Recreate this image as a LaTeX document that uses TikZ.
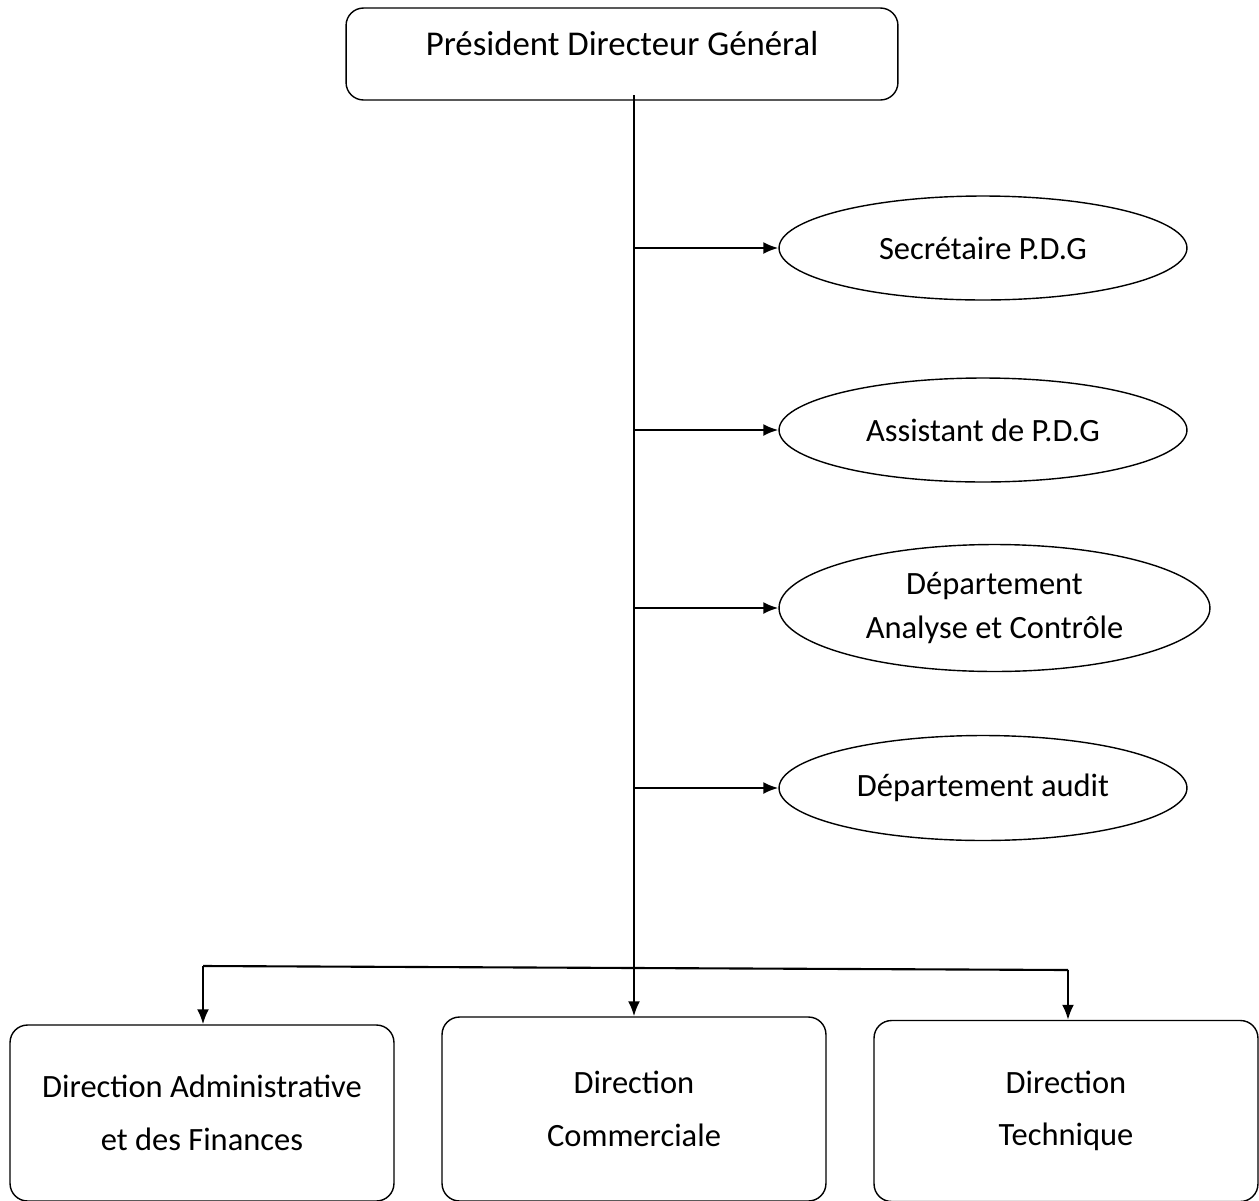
\documentclass[tikz,border=0pt]{standalone}
\usepackage{fontspec}
\setmainfont{Carlito}
\usetikzlibrary{shapes.geometric, arrows.meta}
\tikzset{>={Latex[length=0.3cm, width=0.24cm]}}
\tikzset{
  boite/.style={draw, line width=0.8pt, rounded corners=0.35cm, align=center, inner sep=0pt},
  bulle/.style={draw, ellipse, line width=0.8pt, align=center, inner sep=0pt},
  lien/.style={line width=1.2pt}
}

\begin{document}
\begin{tikzpicture}[x=0.02cm, y=-0.02cm, font=\fontsize{18.5}{25}\selectfont]

\useasboundingbox (0,0) rectangle (1259,1201);

\node[boite, font=\fontsize{19.8}{25}\selectfont, minimum width=11.04cm, minimum height=1.84cm, text height=0.62cm, text depth=0.58cm] (pdg) at (622,54) {Président Directeur Général};

\node[bulle, minimum width=8.16cm, minimum height=2.08cm] (sec) at (983,248) {Secrétaire P.D.G};
\node[bulle, minimum width=8.16cm, minimum height=2.08cm] (ass) at (983,430) {Assistant de P.D.G};
\node[bulle, minimum width=8.62cm, minimum height=2.54cm] (dac) at (994.5,608) {Département\\Analyse et Contrôle};
\node[bulle, minimum width=8.16cm, minimum height=2.10cm] (aud) at (983,788) {Département audit};

\node[boite, font=\fontsize{18.5}{30}\selectfont, minimum width=7.68cm, minimum height=3.52cm] (daf) at (202,1113) {Direction Administrative\\et des Finances};
\node[boite, font=\fontsize{18.5}{30}\selectfont, minimum width=7.68cm, minimum height=3.68cm] (dco) at (634,1109) {Direction\\Commerciale};
\node[boite, font=\fontsize{18.5}{30}\selectfont, minimum width=7.68cm, minimum height=3.62cm] (dte) at (1066,1111) {Direction\\Technique};

\coordinate (tronc) at (634,95);
\coordinate (gauche) at (203,966);
\coordinate (droite) at (1068,970);

% tronc central
\draw[->, lien] (tronc) -- (dco.north);

% rattachements
\draw[->, lien] (tronc |- sec.west) -- (sec.west);
\draw[->, lien] (tronc |- ass.west) -- (ass.west);
\draw[->, lien] (tronc |- dac.west) -- (dac.west);
\draw[->, lien] (tronc |- aud.west) -- (aud.west);

% directions
\draw[lien] (gauche) -- (droite);
\draw[->, lien] (gauche) -- (gauche |- daf.north);
\draw[->, lien] (droite) -- (droite |- dte.north);

\end{tikzpicture}
\end{document}
